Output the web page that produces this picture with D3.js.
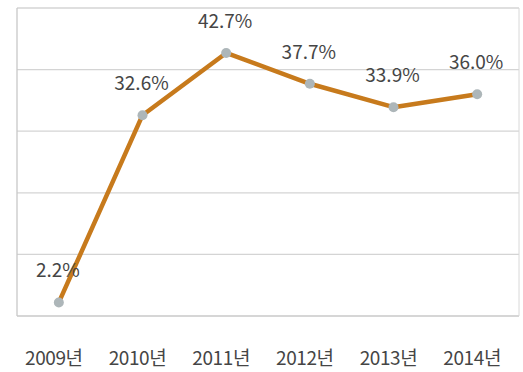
<!DOCTYPE html>
<html><head><meta charset="utf-8">
<script src="https://cdn.jsdelivr.net/npm/d3@7"></script>
<style>body{margin:0;background:#fff;}svg{display:block;font-family:"Noto Sans CJK KR","Noto Sans",sans-serif;}</style>
</head><body><svg id="c" width="523" height="372"></svg>
<script>
const categories = ["2009년","2010년","2011년","2012년","2013년","2014년"];
const values = [2.2, 32.6, 42.7, 37.7, 33.9, 36.0];
const labels = ["2.2%","32.6%","42.7%","37.7%","33.9%","36.0%"];
const yTicks = [0,10,20,30,40,50];

const svg = d3.select("#c");
const L=17, R=519, T=8, B=316;
const x = d3.scaleBand().domain(categories).range([L,R]);
const y = d3.scaleLinear().domain([0,50]).range([B,T]);

svg.append("g").selectAll("line").data(yTicks).join("line")
  .attr("x1",L).attr("x2",R).attr("y1",d=>y(d)).attr("y2",d=>y(d))
  .attr("stroke",d=>d===0?"#c8c8c8":"#d4d4d4").attr("stroke-width",1.3);
svg.append("line").attr("x1",L).attr("x2",L).attr("y1",T).attr("y2",B).attr("stroke","#c8c8c8").attr("stroke-width",1.3);
svg.append("line").attr("x1",R).attr("x2",R).attr("y1",T).attr("y2",B).attr("stroke","#d8d8d8").attr("stroke-width",1);

const cx = d=>x(d)+x.bandwidth()/2;
svg.append("path").datum(values.map((v,i)=>[categories[i],v]))
  .attr("fill","none").attr("stroke","#c77a1c").attr("stroke-width",4.5).attr("stroke-linejoin","round")
  .attr("d",d3.line().x(d=>cx(d[0])).y(d=>y(d[1])));
svg.append("g").selectAll("circle").data(values).join("circle")
  .attr("cx",(d,i)=>cx(categories[i])).attr("cy",d=>y(d)).attr("r",5)
  .attr("fill","#adb6b9");
svg.append("g").selectAll("text").data(values).join("text")
  .attr("x",(d,i)=>cx(categories[i])-1).attr("y",d=>y(d)-25)
  .attr("text-anchor","middle").attr("font-size",19).attr("fill","#454545")
  .text((d,i)=>labels[i]);
svg.append("g").selectAll("text").data(categories).join("text")
  .attr("x",d=>cx(d)-5).attr("y",365)
  .attr("text-anchor","middle").attr("font-size",19).attr("fill","#454545")
  .attr("letter-spacing",-0.4)
  .text(d=>d);
</script></body></html>
